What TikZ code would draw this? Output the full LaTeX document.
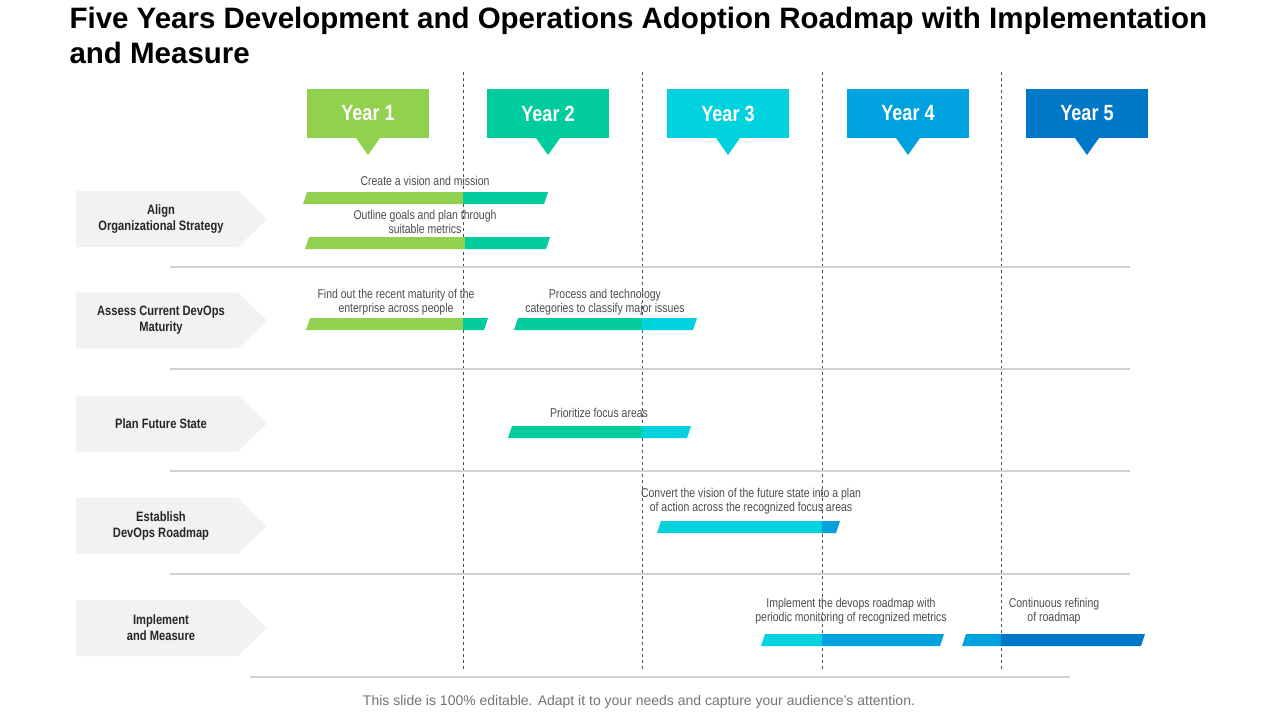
\documentclass[tikz,border=0pt]{standalone}
\usepackage{fontspec}
\setmainfont{Liberation Sans}
\newfontfamily\narrowfont[FakeStretch=0.82]{Liberation Sans}
\usetikzlibrary{positioning}
\definecolor{cgreen}{HTML}{92D050}
\definecolor{cteal}{HTML}{00CC9E}
\definecolor{ccyan}{HTML}{00D3DD}
\definecolor{cblue}{HTML}{00A2DE}
\definecolor{cdark}{HTML}{0078C9}
\definecolor{cgray}{HTML}{F2F2F2}
\tikzset{
  yearbox/.style={fill=#1,minimum width=122pt,minimum height=49pt,inner sep=0pt,
    text=white,font=\narrowfont\bfseries\fontsize{22}{24}\selectfont},
  tasklabel/.style={font=\narrowfont\fontsize{12.8}{14}\selectfont,text=black!70,align=center},
  phase/.style={font=\narrowfont\bfseries\fontsize{13.6}{16}\selectfont,text=black!85,align=center},
  yearline/.style={dashed,black!70,thin},
  sep/.style={black!18,line width=1.5pt}
}
\begin{document}
\begin{tikzpicture}[x=1pt,y=-1pt]
\useasboundingbox (0,0) rectangle (1280,720);
% title
\node[anchor=north west,align=left,font=\bfseries\fontsize{29.5}{35}\selectfont] (title) at (66,4)
  {Five Years Development and Operations Adoption Roadmap with Implementation\\and Measure};
% year headers
\foreach \i/\x/\c in {1/368/cgreen,2/548/cteal,3/728/ccyan,4/908/cblue,5/1087/cdark}{
  \node[yearbox=\c] (year\i) at (\x,113.5) {Year \i};
  \fill[\c] (\x-12,138) -- (\x+12,138) -- (\x,155) -- cycle;
}
% dashed separators
\foreach \x in {463,642,822,1001}
  \draw[yearline] (\x,72) -- (\x,672);
% phase arrows
\foreach \n/\y/\t in {a/219/{Align\\Organizational Strategy},b/320.5/{Assess Current DevOps\\Maturity},
    c/423.5/{Plan Future State},d/526/{Establish\\DevOps Roadmap},e/628/{Implement\\and Measure}}{
  \fill[cgray] (76,\y-28) -- (238,\y-28) -- (267,\y) -- (238,\y+28) -- (76,\y+28) -- cycle;
  \node[phase] (phase\n) at (161,\y) {\t};
}
% row separators
\foreach \y in {267,369,471,574}
  \draw[sep] (170,\y) -- (1130,\y);
\draw[sep] (250,677) -- (1070,677);
% bars: parallelograms split in two colours
\foreach \y/\xa/\xs/\xb/\ca/\cb in {192/303/463/548/cgreen/cteal,237/305/465/550/cgreen/cteal,
    318/306/463/488/cgreen/cteal,318/514/642/697/cteal/ccyan,426/508/642/691/cteal/ccyan,
    521/657/822/840/ccyan/cblue,634/761/822/944/ccyan/cblue,634/962/1001/1145/cblue/cdark}{
  \fill[\ca] (\xa+4,\y) -- (\xs,\y) -- (\xs,\y+12) -- (\xa,\y+12) -- cycle;
  \fill[\cb] (\xs,\y) -- (\xb,\y) -- (\xb-4,\y+12) -- (\xs,\y+12) -- cycle;
}
% task labels
\node[tasklabel] (t1) at (425,181) {Create a vision and mission};
\node[tasklabel] (t2) at (425,222) {Outline goals and plan through\\suitable metrics};
\node[tasklabel] (t3) at (396,302) {Find out the recent maturity of the\\enterprise across people};
\node[tasklabel] (t4) at (605,302) {Process and technology\\categories to classify major issues};
\node[tasklabel] (t5) at (599,413) {Prioritize focus areas};
\node[tasklabel] (t6) at (751,501) {Convert the vision of the future state into a plan\\of action across the recognized focus areas};
\node[tasklabel] (t7) at (851,611) {Implement the devops roadmap with\\periodic monitoring of recognized metrics};
\node[tasklabel] (t8) at (1054,611) {Continuous refining\\of roadmap};
% footer
\node[font=\fontsize{14}{16}\selectfont,text=black!55] (foot) at (639,702)
  {This slide is 100\% editable. Adapt it to your needs and capture your audience's attention.};
\end{tikzpicture}
\end{document}
